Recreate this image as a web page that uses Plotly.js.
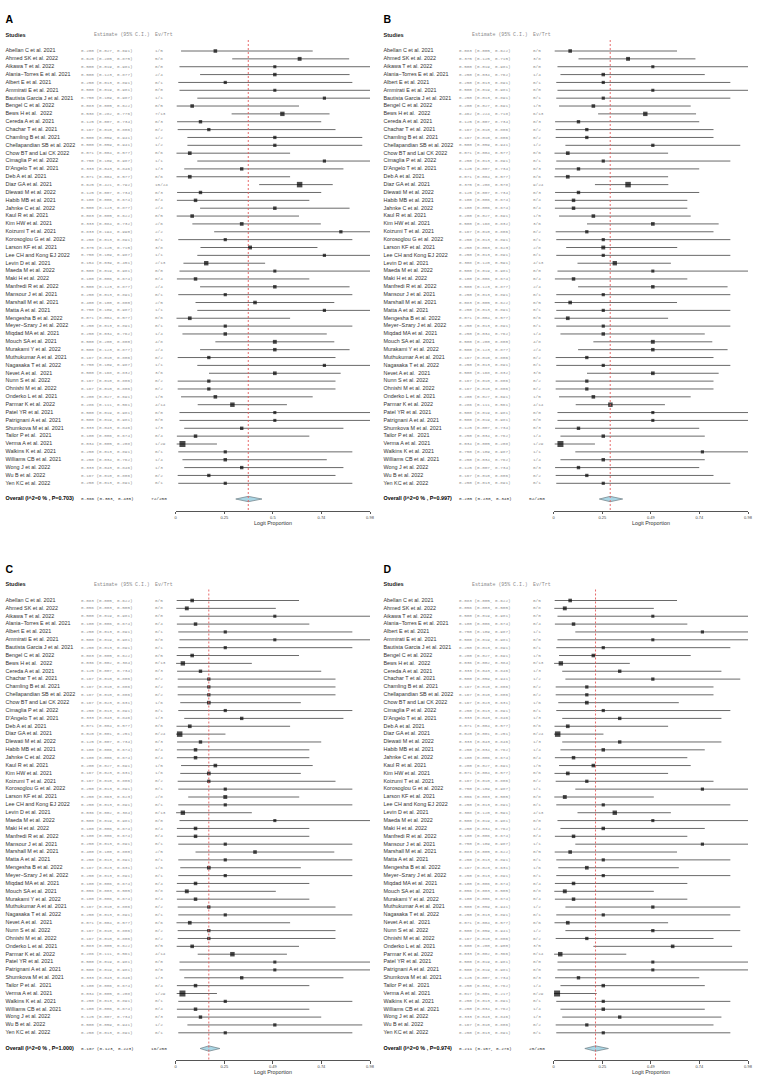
<!DOCTYPE html>
<html><head><meta charset="utf-8">
<script src="https://cdn.plot.ly/plotly-3.0.1.min.js"></script>
<style>html,body{margin:0;padding:0;background:#fff}#chart{width:762px;height:1080px}</style>
</head><body><div id="chart"></div>
<script>
const studies = ["Abellan C et al. 2021","Ahmed SK et al. 2022","Aikawa T et al. 2022","Alania\u2212Torres E et al. 2021","Albert E et al. 2021","Ammirati E et al. 2021","Bautista Garcia J et al. 2021","Bengel C et al. 2022","Bews H et al.  2022","Cereda A et al. 2021","Chachar T et al. 2021","Chamling B et al. 2021","Chellapandian SB et al. 2022","Chow BT and Lai CK 2022","Cimaglia P et al. 2022","D'Angelo T et al. 2021","Deb A et al. 2021","Diaz GA et al. 2021","Dlewati M et al. 2022","Habib MB et al. 2021","Jahnke C et al. 2022","Kaul R et al. 2021","Kim HW et al. 2021","Koizumi T et al. 2021","Korosoglou G et al. 2022","Larson KF et al. 2021","Lee CH and Kong EJ 2022","Levin D et al. 2021","Maeda M et al. 2022","Maki H et al. 2022","Manfredi R et al. 2022","Mansour J et al. 2021","Marshall M et al. 2021","Matta A et al. 2021","Mengesha B et al. 2022","Meyer\u2212Szary J et al. 2022","Miqdad MA et al. 2021","Mouch SA et al. 2021","Murakami Y et al. 2022","Muthukumar A et al. 2021","Nagasaka T et al. 2022","Nevet A et al.  2021","Nunn S et al. 2022","Ohnishi M et al. 2022","Onderko L et al. 2021","Parmar K et al. 2022","Patel YR et al. 2021","Patrignani A et al. 2021","Shumkova M et al. 2021","Tailor P et al.  2021","Verma A et al. 2021","Walkins K et al. 2021","Williams CB et al. 2021","Wong J et al. 2022","Wu B et al. 2022","Yen KC et al. 2022"];
const trials = [5,8,0,4,1,0,1,5,13,3, 2,2,2,6,1,3,6,24,3,4, 4,5,6,2,1,8,1,13,0,4, 4,1,5,1,6,1,4,8,4,2, 1,6,2,2,5,14,0,0,3,4, 29,1,4,3,2,1];

const panelLabels = ["A","B","C","D"];

const estA = [0.200,0.625,0.500,0.500,0.250,0.500,0.750,0.083,0.538,0.125, 0.167,0.500,0.500,0.071,0.750,0.333,0.071,0.625,0.125,0.100, 0.500,0.083,0.333,0.833,0.250,0.375,0.750,0.154,0.500,0.100, 0.500,0.250,0.400,0.750,0.071,0.250,0.250,0.500,0.500,0.167, 0.750,0.500,0.167,0.167,0.200,0.286,0.500,0.500,0.333,0.100, 0.034,0.250,0.250,0.333,0.167,0.250];
const loA = [0.027,0.285,0.019,0.123,0.013,0.019,0.109,0.005,0.282,0.007, 0.010,0.059,0.059,0.004,0.109,0.043,0.004,0.421,0.007,0.006, 0.123,0.005,0.084,0.194,0.013,0.125,0.109,0.039,0.019,0.006, 0.123,0.013,0.100,0.109,0.004,0.013,0.034,0.200,0.123,0.010, 0.109,0.168,0.010,0.010,0.027,0.111,0.019,0.019,0.043,0.006, 0.005,0.013,0.034,0.043,0.010,0.013];
const hiA = [0.691,0.875,0.981,0.877,0.891,0.981,0.987,0.622,0.776,0.734, 0.806,0.941,0.941,0.577,0.987,0.846,0.577,0.792,0.734,0.674, 0.877,0.622,0.732,0.990,0.891,0.715,0.987,0.451,0.981,0.674, 0.877,0.891,0.800,0.987,0.577,0.891,0.762,0.800,0.877,0.806, 0.987,0.832,0.806,0.806,0.691,0.561,0.981,0.981,0.846,0.674, 0.208,0.891,0.762,0.846,0.806,0.891];
const evA = [1,5,0,2,0,0,1,0,7,0, 0,1,1,0,1,1,0,15,0,0, 2,0,2,2,0,3,1,2,0,0, 2,0,2,1,0,0,1,4,2,0, 1,3,0,0,1,4,0,0,1,0, 1,0,1,1,0,0];

const estB = [0.083,0.375,0.500,0.250,0.250,0.500,0.250,0.200,0.462,0.125, 0.167,0.167,0.500,0.071,0.250,0.125,0.071,0.375,0.125,0.100, 0.100,0.200,0.500,0.167,0.250,0.250,0.250,0.308,0.500,0.100, 0.500,0.250,0.083,0.250,0.071,0.250,0.250,0.500,0.500,0.167, 0.250,0.500,0.167,0.167,0.200,0.286,0.500,0.500,0.125,0.250, 0.034,0.750,0.250,0.125,0.167,0.250];
const loB = [0.005,0.125,0.019,0.034,0.013,0.019,0.013,0.027,0.224,0.007, 0.010,0.010,0.059,0.004,0.013,0.007,0.004,0.208,0.007,0.006, 0.006,0.027,0.168,0.010,0.013,0.063,0.013,0.120,0.019,0.006, 0.123,0.013,0.005,0.013,0.004,0.013,0.034,0.200,0.123,0.010, 0.013,0.168,0.010,0.010,0.027,0.111,0.019,0.019,0.007,0.034, 0.005,0.109,0.034,0.007,0.010,0.013];
const hiB = [0.622,0.715,0.981,0.762,0.891,0.981,0.891,0.691,0.718,0.734, 0.806,0.806,0.941,0.577,0.891,0.734,0.577,0.578,0.734,0.674, 0.674,0.691,0.832,0.806,0.891,0.623,0.891,0.591,0.981,0.674, 0.877,0.891,0.622,0.891,0.577,0.891,0.762,0.800,0.877,0.806, 0.891,0.832,0.806,0.806,0.691,0.561,0.981,0.981,0.734,0.762, 0.208,0.987,0.762,0.734,0.806,0.891];
const evB = [0,3,0,1,0,0,0,1,6,0, 0,0,1,0,0,0,0,9,0,0, 0,1,3,0,0,2,0,4,0,0, 2,0,0,0,0,0,1,4,2,0, 0,3,0,0,1,4,0,0,0,1, 1,1,1,0,0,0];

const estC = [0.083,0.056,0.500,0.100,0.250,0.500,0.250,0.083,0.036,0.125, 0.167,0.167,0.167,0.167,0.250,0.333,0.071,0.020,0.125,0.100, 0.100,0.200,0.167,0.167,0.250,0.250,0.250,0.036,0.500,0.100, 0.100,0.250,0.400,0.250,0.167,0.250,0.100,0.056,0.100,0.167, 0.250,0.071,0.167,0.167,0.083,0.286,0.500,0.500,0.333,0.100, 0.034,0.250,0.100,0.125,0.500,0.250];
const loC = [0.005,0.003,0.019,0.006,0.013,0.019,0.013,0.005,0.002,0.007, 0.010,0.010,0.010,0.023,0.013,0.043,0.004,0.001,0.007,0.006, 0.006,0.027,0.023,0.010,0.013,0.063,0.013,0.002,0.019,0.006, 0.006,0.013,0.100,0.013,0.023,0.013,0.006,0.003,0.006,0.010, 0.013,0.004,0.010,0.010,0.005,0.111,0.019,0.019,0.043,0.006, 0.005,0.013,0.006,0.007,0.059,0.013];
const hiC = [0.622,0.505,0.981,0.674,0.891,0.981,0.891,0.622,0.384,0.734, 0.806,0.806,0.806,0.631,0.891,0.846,0.577,0.251,0.734,0.674, 0.674,0.691,0.631,0.806,0.891,0.623,0.891,0.384,0.981,0.674, 0.674,0.891,0.800,0.891,0.631,0.891,0.674,0.505,0.674,0.806, 0.891,0.577,0.806,0.806,0.622,0.561,0.981,0.981,0.846,0.674, 0.208,0.891,0.674,0.734,0.941,0.891];
const evC = [0,0,0,0,0,0,0,0,0,0, 0,0,0,1,0,1,0,0,0,0, 0,1,1,0,0,2,0,0,0,0, 0,0,2,0,1,0,0,0,0,0, 0,0,0,0,0,4,0,0,1,0, 1,0,0,0,1,0];

const estD = [0.083,0.056,0.500,0.100,0.750,0.500,0.250,0.200,0.036,0.333, 0.500,0.167,0.167,0.167,0.250,0.333,0.071,0.020,0.333,0.250, 0.100,0.200,0.071,0.167,0.750,0.056,0.250,0.308,0.500,0.250, 0.100,0.750,0.083,0.250,0.167,0.250,0.100,0.056,0.100,0.500, 0.250,0.071,0.500,0.167,0.600,0.033,0.500,0.500,0.125,0.250, 0.017,0.250,0.250,0.333,0.167,0.250];
const loD = [0.005,0.003,0.019,0.006,0.109,0.019,0.013,0.027,0.002,0.043, 0.059,0.010,0.010,0.023,0.013,0.043,0.004,0.001,0.043,0.034, 0.006,0.027,0.004,0.010,0.109,0.003,0.013,0.120,0.019,0.034, 0.006,0.109,0.005,0.013,0.023,0.013,0.006,0.003,0.006,0.059, 0.013,0.004,0.059,0.010,0.200,0.002,0.019,0.019,0.007,0.034, 0.001,0.013,0.034,0.043,0.010,0.013];
const hiD = [0.622,0.505,0.981,0.674,0.987,0.981,0.891,0.691,0.384,0.846, 0.941,0.806,0.806,0.631,0.891,0.846,0.577,0.251,0.846,0.762, 0.674,0.691,0.577,0.806,0.987,0.505,0.891,0.591,0.981,0.762, 0.674,0.987,0.622,0.891,0.631,0.891,0.674,0.505,0.674,0.941, 0.891,0.577,0.941,0.806,0.900,0.366,0.981,0.981,0.734,0.762, 0.217,0.891,0.762,0.846,0.806,0.891];
const evD = [0,0,0,0,1,0,0,1,0,1, 1,0,0,1,0,1,0,0,1,1, 0,1,0,0,1,0,0,4,0,1, 0,1,0,0,1,0,0,0,0,1, 0,0,1,0,3,0,0,0,0,1, 0,0,1,1,0,0];

const overallEst = [0.366,0.285,0.167,0.211];
const overallLo  = [0.303,0.230,0.123,0.157];
const overallHi  = [0.435,0.348,0.223,0.276];
const overallEv  = [72,52,16,25];
const overallTrt = [250,250,250,250];
const overallI2  = ["0","0","0","0"];
const overallP   = ["0.703","0.997","1.000","0.974"];

const tickVals  = [0,0.245,0.49,0.735,0.98];
const tickTextA = ["0","0.25","0.5","0.74","0.98"];
const tickTextB = ["0","0.25","0.49","0.74","0.98"];
const tickTextC = ["0","0.25","0.49","0.74","0.98"];
const tickTextD = ["0","0.25","0.49","0.74","0.98"];

const panels = [
  {est:estA, lo:loA, hi:hiA, ev:evA, ticks:tickTextA},
  {est:estB, lo:loB, hi:hiB, ev:evB, ticks:tickTextB},
  {est:estC, lo:loC, hi:hiC, ev:evC, ticks:tickTextC},
  {est:estD, lo:loD, hi:hiD, ev:evD, ticks:tickTextD}
];

const W = 762, H = 1080, ROW = 7.86;
const SANS = "Liberation Sans, Arial, sans-serif";
const MONO = "Liberation Mono, Courier New, monospace";
const f3 = v => v.toFixed(3);
const rows = studies.map((_, i) => i);
const OVR = 57;

const data = [];
const layout = {
  width: W, height: H, margin: {l:0, r:0, t:0, b:0},
  paper_bgcolor: "#fff", plot_bgcolor: "rgba(0,0,0,0)",
  showlegend: false, shapes: [], annotations: [],
  font: {family: SANS}
};

panels.forEach((p, k) => {
  const col = k % 2, rw = Math.floor(k / 2);
  const xo = col * 378, yo = rw * 549.5;
  const id = k + 1, tid = k + 5;
  const xName = "x" + id, yName = "y" + id, tName = "x" + tid;
  const yTop = yo, yBot = yo + 510.5, r0 = yo + 51;

  layout["yaxis" + id] = {
    domain: [1 - yBot / H, 1 - yTop / H],
    range: [(yBot - r0) / ROW, (yTop - r0) / ROW],
    visible: false, anchor: xName, fixedrange: true
  };
  layout["xaxis" + id] = {
    domain: [(175.7 + xo) / W, (370 + xo) / W],
    range: [0, 0.98], anchor: yName,
    tickvals: tickVals, ticktext: p.ticks,
    showgrid: false, zeroline: false, showline: true,
    linecolor: "#555", linewidth: 1, ticks: "outside", ticklen: 2.5,
    tickcolor: "#555", tickwidth: 1,
    tickfont: {family: SANS, size: 4, color: "#444"}, fixedrange: true
  };
  layout["xaxis" + tid] = {
    domain: [xo / W, (xo + 381) / W], range: [0, 381],
    visible: false, anchor: yName, fixedrange: true
  };

  // CI lines and boxes
  data.push({
    type: "scatter", mode: "markers", xaxis: xName, yaxis: yName,
    x: p.est, y: rows, cliponaxis: false,
    error_x: {type: "data", symmetric: false,
      array: p.est.map((e, i) => p.hi[i] - e),
      arrayminus: p.est.map((e, i) => e - p.lo[i]),
      width: 0, thickness: 1, color: "#6a6a6a"},
    marker: {symbol: "square", color: "#000",
      size: trials.map(n => 3.1 + 0.1 * n), line: {width: 0}},
    hoverinfo: "skip"
  });

  // overall diamond
  const oe = overallEst[k], ol = overallLo[k], oh = overallHi[k], dh = 0.34;
  data.push({
    type: "scatter", mode: "lines", xaxis: xName, yaxis: yName,
    x: [ol, oe, oh, oe, ol], y: [OVR, OVR - dh, OVR, OVR + dh, OVR],
    fill: "toself", fillcolor: "#a9d6e5",
    line: {color: "#7a8a90", width: 0.8}, hoverinfo: "skip"
  });

  // red dashed line at overall estimate
  layout.shapes.push({
    type: "line", xref: xName, yref: yName, x0: oe, x1: oe,
    y0: -1.4, y1: (yBot - r0) / ROW, layer: "above",
    line: {color: "rgb(228,90,90)", width: 0.9, dash: "2px,2px"}
  });

  const txt = (x, y, text, font, pos) => data.push({
    type: "scatter", mode: "text", xaxis: tName, yaxis: yName,
    x: Array.isArray(y) ? y.map(() => x) : [x], y: Array.isArray(y) ? y : [y],
    text: Array.isArray(text) ? text : [text],
    textposition: pos || "middle right", textfont: font,
    marker: {size: 0.1}, cliponaxis: false, hoverinfo: "skip"
  });

  // panel letter
  txt(5.5, (yo + 20.5 - r0) / ROW, panelLabels[k], {family: SANS, size: 10.5, color: "#000", weight: "bold"});
  // headers
  txt(5.5, -2, "Studies", {family: SANS, size: 5.6, color: "#222", weight: "bold"});
  txt(94, -2, "Estimate (95% C.I.)", {family: MONO, size: 4.9, color: "#8a8a8a"});
  txt(155, -2, "Ev/Trt", {family: MONO, size: 4.9, color: "#8a8a8a"});
  // study rows
  txt(5.5, rows, studies, {family: SANS, size: 5.4, color: "#333"});
  txt(81, rows, p.est.map((e, i) => f3(e) + " (" + f3(p.lo[i]) + ", " + f3(p.hi[i]) + ")"),
      {family: MONO, size: 4.3, color: "#909090"});
  txt(155, rows, p.ev.map((e, i) => e + "/" + trials[i]), {family: MONO, size: 4.3, color: "#909090"});
  // overall row
  txt(5.5, OVR, "Overall (I^2=" + overallI2[k] + " % , P=" + overallP[k] + ")",
      {family: SANS, size: 5.4, color: "#000", weight: "bold"});
  txt(81, OVR, f3(oe) + " (" + f3(ol) + ", " + f3(oh) + ")", {family: MONO, size: 4.4, color: "#333"});
  txt(151, OVR, overallEv[k] + "/" + overallTrt[k], {family: MONO, size: 4.4, color: "#333"});

  // axis title
  layout.annotations.push({
    text: "Logit Proportion", xref: "paper", yref: "paper",
    x: (175.7 + 370 + 2 * xo) / 2 / W, y: 1 - (yo + 522.7) / H,
    xanchor: "center", yanchor: "middle", showarrow: false,
    font: {family: SANS, size: 5.4, color: "#333"}
  });
});

Plotly.newPlot("chart", data, layout, {staticPlot: true, displayModeBar: false});
</script>
</body></html>
